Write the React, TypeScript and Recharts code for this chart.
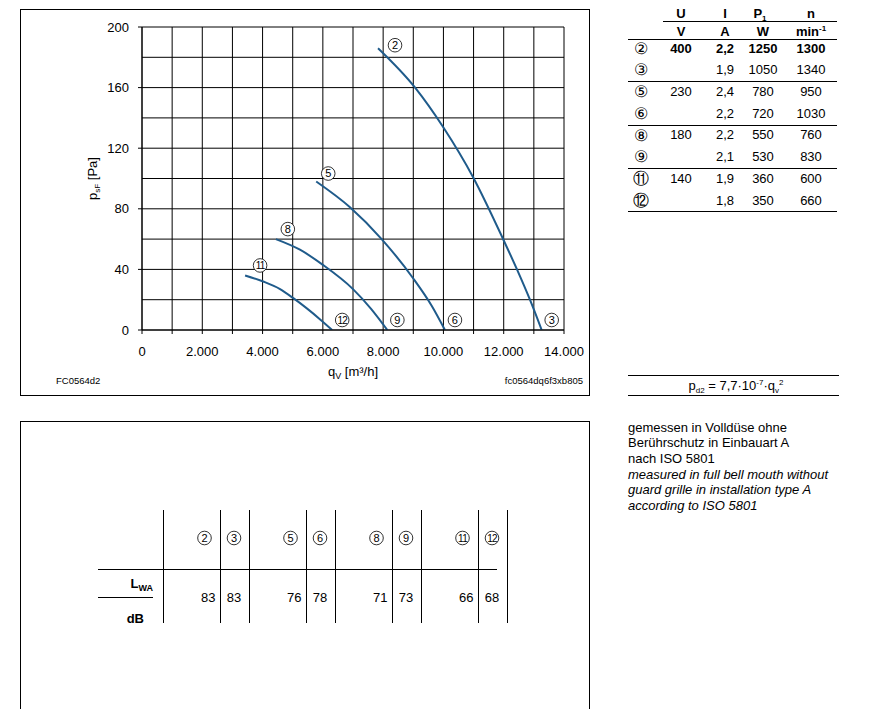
import { LineChart, Line, XAxis, YAxis, CartesianGrid } from "recharts";

// axis ticks
const qTicks = [0, 1000, 2000, 3000, 4000, 5000, 6000, 7000, 8000, 9000, 10000, 11000, 12000, 13000, 14000];
const pTicks = [0, 20, 40, 60, 80, 100, 120, 140, 160, 180, 200];

// fan curves, q [m3/h] vs p [Pa]
const curve2 = [
  { q: 7830, p: 186 },
  { q: 9060, p: 160 },
  { q: 9990, p: 134 },
  { q: 10980, p: 101 },
  { q: 11980, p: 60 },
  { q: 12440, p: 40 },
  { q: 12870, p: 20 },
  { q: 13260, p: 0 },
];
const curve5 = [
  { q: 5780, p: 98 },
  { q: 6900, p: 81 },
  { q: 7950, p: 60 },
  { q: 9000, p: 34 },
  { q: 9610, p: 16 },
  { q: 10050, p: 0 },
];
const curve8 = [
  { q: 4440, p: 60 },
  { q: 5240, p: 53 },
  { q: 6000, p: 43 },
  { q: 7000, p: 27 },
  { q: 7600, p: 14 },
  { q: 8140, p: 0 },
];
const curve11 = [
  { q: 3420, p: 36 },
  { q: 4020, p: 32 },
  { q: 4580, p: 27 },
  { q: 5020, p: 21 },
  { q: 5910, p: 7 },
  { q: 6310, p: 0 },
];

// operating point table
const tableIds = ["②", "③", "⑤", "⑥", "⑧", "⑨", "⑪", "⑫"];
const tableU = ["400", "", "230", "", "180", "", "140", ""];
const tableI = ["2,2", "1,9", "2,4", "2,2", "2,2", "2,1", "1,9", "1,8"];
const tableP1 = ["1250", "1050", "780", "720", "550", "530", "360", "350"];
const tableN = ["1300", "1340", "950", "1030", "760", "830", "600", "660"];

// sound power table
const soundIds = ["2", "3", "5", "6", "8", "9", "11", "12"];
const soundLwa = [83, 83, 76, 78, 71, 73, 66, 68];

const noteDe = ["gemessen in Volldüse ohne", "Berührschutz in Einbauart A", "nach ISO 5801"];
const noteEn = ["measured in full bell mouth without", "guard grille in installation type A", "according to ISO 5801"];

const FONT = '"Liberation Sans", Arial, Helvetica, sans-serif';
const BLUE = "#1f5b8b";

const curves = [
  { key: "c2", data: curve2, start: "2", end: "3", sdx: 17, sdy: -3 },
  { key: "c5", data: curve5, start: "5", end: "6", sdx: 12, sdy: -8 },
  { key: "c8", data: curve8, start: "8", end: "9", sdx: 12, sdy: -10 },
  { key: "c11", data: curve11, start: "11", end: "12", sdx: 15, sdy: -10 },
];

const Circled = ({ x, y, n }: { x: number; y: number; n: string }) => (
  <g>
    <circle cx={x} cy={y} r={6.8} fill="#fff" stroke="#000" strokeWidth={0.8} />
    <text
      x={x}
      y={y}
      dy="0.36em"
      textAnchor="middle"
      fontSize={n.length > 1 ? 10 : 11}
      letterSpacing={n.length > 1 ? -0.8 : 0}
      fill="#000"
      fontFamily={FONT}
    >
      {n}
    </text>
  </g>
);

const fmtQ = (v: number) => {
  if (v === 0) return "0";
  if (v % 2000 !== 0) return "";
  return `${v / 1000}.000`;
};

const YTick = (props: any) => {
  const { x, y, payload } = props;
  if (payload.value % 40 !== 0) return <g />;
  return (
    <g>
      <line x1={x + 9} x2={x + 13} y1={y} y2={y} stroke="#000" />
      <text x={x} y={y} dy="0.36em" textAnchor="end" fontSize={13} fill="#000" fontFamily={FONT}>
        {payload.value}
      </text>
    </g>
  );
};

const makeDot = (c: (typeof curves)[number]) => (props: any) => {
  const { cx, cy, index } = props;
  if (index === 0) return <Circled key={`${c.key}-s`} x={cx + c.sdx} y={cy + c.sdy} n={c.start} />;
  if (index === c.data.length - 1) return <Circled key={`${c.key}-e`} x={cx + 10} y={cy - 10} n={c.end} />;
  return <g key={`${c.key}-${index}`} />;
};

const FanChart = () => (
  <LineChart width={569} height={386} margin={{ top: 18, right: 25, bottom: 35, left: 0 }}>
    <CartesianGrid stroke="#000" strokeWidth={1} />
    <XAxis
      type="number"
      dataKey="q"
      domain={[0, 14000]}
      ticks={qTicks}
      interval={0}
      tickFormatter={fmtQ}
      tick={{ fontSize: 13, fill: "#000", fontFamily: FONT }}
      tickSize={4}
      tickMargin={13}
      height={30}
      axisLine={{ stroke: "#000" }}
      tickLine={{ stroke: "#000" }}
      allowDataOverflow
      label={{
        content: (p: any) => {
          const vb = p.viewBox;
          return (
            <text x={vb.x + vb.width / 2} y={vb.y + 46} textAnchor="middle" fontSize={13} fill="#000" fontFamily={FONT}>
              q<tspan fontSize={9} dy={3}>V</tspan>
              <tspan dy={-3}> [m³/h]</tspan>
            </text>
          );
        },
      }}
    />
    <YAxis
      type="number"
      dataKey="p"
      domain={[0, 200]}
      ticks={pTicks}
      interval={0}
      width={122}
      tick={YTick}
      tickLine={false}
      tickSize={4}
      tickMargin={9}
      axisLine={{ stroke: "#000" }}
      allowDataOverflow
      label={{
        content: (p: any) => {
          const vb = p.viewBox;
          const cx = vb.x + 72;
          const cy = vb.y + vb.height / 2;
          return (
            <text
              x={cx}
              y={cy}
              dy="0.36em"
              transform={`rotate(-90 ${cx} ${cy})`}
              textAnchor="middle"
              fontSize={13}
              fill="#000"
              fontFamily={FONT}
            >
              p<tspan fontSize={8} dy={3}>sF</tspan>
              <tspan dy={-3}> [Pa]</tspan>
            </text>
          );
        },
      }}
    />
    {curves.map((c) => (
      <Line
        key={c.key}
        data={c.data}
        dataKey="p"
        type="monotone"
        stroke={BLUE}
        strokeWidth={2}
        dot={makeDot(c)}
        activeDot={false}
        isAnimationActive={false}
      />
    ))}
  </LineChart>
);

const rowY = (i: number) => 48 + i * 21.7;
const colX = { id: 641, u: 681, i: 725, p: 763, n: 811 };

const SideTable = () => (
  <g fontFamily={FONT} fontSize={13} fill="#000">
    <g fontWeight="bold" textAnchor="middle">
      <text x={colX.u} y={13} dy="0.36em">U</text>
      <text x={colX.i} y={13} dy="0.36em">I</text>
      <text x={colX.p - 3} y={13} dy="0.36em">
        P<tspan fontSize={8} dy={3}>1</tspan>
      </text>
      <text x={colX.n} y={13} dy="0.36em">n</text>
      <text x={colX.u} y={31} dy="0.36em">V</text>
      <text x={colX.i} y={31} dy="0.36em">A</text>
      <text x={colX.p} y={31} dy="0.36em">W</text>
      <text x={colX.n} y={31} dy="0.36em">
        min<tspan fontSize={8} dy={-5}>-1</tspan>
      </text>
    </g>
    <line x1={663} x2={837} y1={21.5} y2={21.5} stroke="#000" />
    <line x1={628} x2={837} y1={39.5} y2={39.5} stroke="#000" />
    {tableIds.map((id, i) => (
      <g key={id} textAnchor="middle" fontWeight={i === 0 ? "bold" : "normal"}>
        <text x={colX.id} y={rowY(i)} dy="0.36em" fontWeight="normal" fontSize={16}>{id}</text>
        <text x={colX.u} y={rowY(i)} dy="0.36em">{tableU[i]}</text>
        <text x={colX.i} y={rowY(i)} dy="0.36em">{tableI[i]}</text>
        <text x={colX.p} y={rowY(i)} dy="0.36em">{tableP1[i]}</text>
        <text x={colX.n} y={rowY(i)} dy="0.36em">{tableN[i]}</text>
        {i % 2 === 1 && (
          <line x1={628} x2={837} y1={Math.round(rowY(i) + 11.5) + 0.5} y2={Math.round(rowY(i) + 11.5) + 0.5} stroke="#000" />
        )}
      </g>
    ))}
    <line x1={628} x2={839} y1={375.5} y2={375.5} stroke="#000" />
    <text x={736} y={389.5} textAnchor="middle">
      p<tspan fontSize={8} dy={3}>d2</tspan>
      <tspan dy={-3}> = 7,7·10</tspan>
      <tspan fontSize={8} dy={-5}>-7</tspan>
      <tspan dy={5}>·q</tspan>
      <tspan fontSize={8} dy={3}>v</tspan>
      <tspan fontSize={8} dy={-8}>2</tspan>
    </text>
    <line x1={628} x2={839} y1={395.5} y2={395.5} stroke="#000" />
    {noteDe.map((t, i) => (
      <text key={t} x={628} y={427 + i * 15.7} dy="0.36em">{t}</text>
    ))}
    {noteEn.map((t, i) => (
      <text key={t} x={628} y={427 + (i + 3) * 15.7} dy="0.36em" fontStyle="italic">{t}</text>
    ))}
  </g>
);

const SoundTable = () => {
  const x0 = 162.5;
  const wideEnd = (g: number) => x0 + g * 86 + 57;
  const dividers = [x0];
  for (let g = 0; g < 4; g++) dividers.push(wideEnd(g), wideEnd(g) + 29);
  return (
    <g fontFamily={FONT} fontSize={13} fill="#000">
      {dividers.map((d) => (
        <line key={d} x1={Math.round(d) + 0.5} x2={Math.round(d) + 0.5} y1={510} y2={623} stroke="#000" />
      ))}
      <line x1={98} x2={497} y1={569.5} y2={569.5} stroke="#000" />
      <line x1={98} x2={153} y1={597.5} y2={597.5} stroke="#000" />
      <text x={153} y={583} dy="0.36em" textAnchor="end" fontWeight="bold">
        L<tspan fontSize={9} dy={3}>WA</tspan>
      </text>
      <text x={144} y={618} dy="0.36em" textAnchor="end" fontWeight="bold">dB</text>
      {soundIds.map((id, i) => {
        const g = i >> 1;
        const we = wideEnd(g);
        const even = i % 2 === 0;
        const cx = even ? we - 15 : we + 14.5;
        return (
          <g key={id}>
            <Circled x={cx} y={538} n={id} />
            <text x={even ? we - 4 : cx} y={597} dy="0.36em" textAnchor={even ? "end" : "middle"}>
              {soundLwa[i]}
            </text>
          </g>
        );
      })}
    </g>
  );
};

export default function App() {
  return (
    <div
      style={{
        position: "absolute",
        left: 0,
        top: 0,
        width: 895,
        height: 709,
        background: "#fff",
        overflow: "hidden",
        fontFamily: FONT,
      }}
    >
      <div style={{ position: "absolute", left: 20, top: 9, width: 569, height: 386 }}>
        <FanChart />
      </div>
      <div
        style={{
          position: "absolute",
          left: 20,
          top: 9,
          width: 570,
          height: 387,
          border: "1px solid #000",
          boxSizing: "border-box",
          pointerEvents: "none",
        }}
      />
      <div
        style={{
          position: "absolute",
          left: 20,
          top: 421,
          width: 570,
          height: 400,
          border: "1px solid #000",
          boxSizing: "border-box",
          pointerEvents: "none",
        }}
      />
      <svg width={895} height={709} style={{ position: "absolute", left: 0, top: 0, pointerEvents: "none" }}>
        <text x={56} y={383.5} fontSize={9.5} fill="#000" fontFamily={FONT}>FC0564d2</text>
        <text x={583} y={383.5} fontSize={9.5} textAnchor="end" fill="#000" fontFamily={FONT}>fc0564dq6f3xb805</text>
        <SideTable />
        <SoundTable />
      </svg>
    </div>
  );
}
